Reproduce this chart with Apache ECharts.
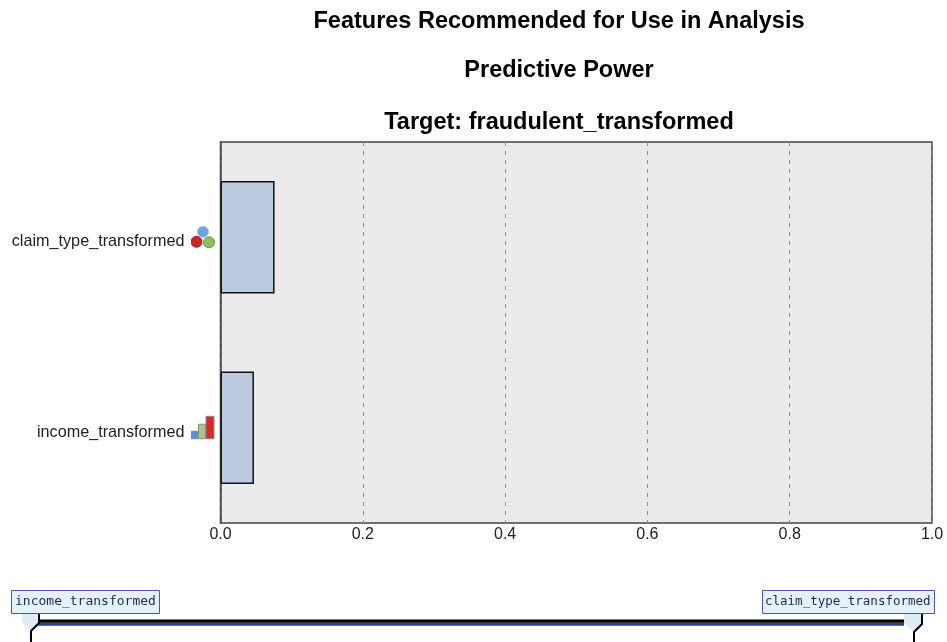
<!DOCTYPE html>
<html>
<head>
<meta charset="utf-8">
<style>
html,body{margin:0;padding:0;background:#fff;}
#main{width:947px;height:642px;}
</style>
<script src="https://cdn.jsdelivr.net/npm/echarts@6/dist/echarts.min.js"></script>
</head>
<body>
<div id="main"></div>
<script>
var titles = ["Features Recommended for Use in Analysis", "Predictive Power", "Target: fraudulent_transformed"];
var categories = ["claim_type_transformed", "income_transformed"];
var power = [0.076, 0.047];
var tickLabels = ["0.0", "0.2", "0.4", "0.6", "0.8", "1.0"];
var sliderLabels = ["income_transformed", "claim_type_transformed"];

// 名义变量/有序变量 小图标
var nominalIcon = '<svg xmlns="http://www.w3.org/2000/svg" width="25" height="25">' +
    '<circle cx="12.5" cy="7" r="5.5" fill="#6f9fdc" stroke="#a5c4ea"/>' +
    '<circle cx="6" cy="17" r="5.5" fill="#c8252c" stroke="#a81c22"/>' +
    '<circle cx="18.5" cy="17.5" r="5.5" fill="#8fbe5f" stroke="#6f9f45"/></svg>';
var ordinalIcon = '<svg xmlns="http://www.w3.org/2000/svg" width="25" height="25">' +
    '<rect x="1" y="16" width="7" height="7.5" fill="#5f8fc8" stroke="#8a8a8a"/>' +
    '<rect x="8" y="9" width="7" height="14.5" fill="#a5c78a" stroke="#8a8a8a"/>' +
    '<rect x="15.5" y="1" width="8" height="22.5" fill="#d8282c" stroke="#8a8a8a"/></svg>';
function svgUri(s) {
    return 'data:image/svg+xml;charset=utf-8,' + encodeURIComponent(s);
}

var chart = echarts.init(document.getElementById("main"));
var titleFont = {color: "#000", fontSize: 23.5, fontWeight: "bold", fontFamily: "Liberation Sans"};

var option = {
    animation: false,
    backgroundColor: "#fff",
    title: [
        {text: titles[0], left: 554, top: 5, textAlign: "center", textStyle: titleFont},
        {text: titles[1], left: 554, top: 54, textAlign: "center", textStyle: titleFont},
        {text: titles[2], left: 554, top: 106, textAlign: "center", textStyle: titleFont}
    ],
    grid: {
        show: true,
        left: 220.5,
        top: 142,
        width: 711.5,
        height: 381,
        backgroundColor: "#ebebeb",
        borderColor: "#444",
        borderWidth: 1.5
    },
    xAxis: {
        type: "value",
        min: 0,
        max: 1,
        interval: 0.2,
        axisLine: {show: false},
        axisTick: {show: false},
        splitLine: {show: true, lineStyle: {color: "#8c8c8c", type: [4, 5], width: 1}},
        axisLabel: {
            color: "#222",
            fontSize: 16,
            fontFamily: "Liberation Sans",
            margin: 4,
            hideOverlap: false,
            showMinLabel: true,
            showMaxLabel: true,
            formatter: function (v) { return tickLabels[Math.round(v / 0.2)]; }
        }
    },
    yAxis: {
        type: "category",
        inverse: true,
        data: categories,
        axisLine: {show: true, lineStyle: {color: "#444", width: 1.5}},
        axisTick: {show: false},
        axisLabel: {
            margin: 5,
            formatter: function (v) {
                return "{name|" + v + "}{" + (v === categories[0] ? "nominal" : "ordinal") + "|}";
            },
            rich: {
                name: {color: "#222", fontSize: 16.2, fontFamily: "Liberation Sans", padding: [9, 6, 0, 0]},
                nominal: {width: 25, height: 25, backgroundColor: {image: svgUri(nominalIcon)}},
                ordinal: {width: 25, height: 25, backgroundColor: {image: svgUri(ordinalIcon)}}
            }
        }
    },
    series: [{
        type: "bar",
        data: power,
        barWidth: "59%",
        itemStyle: {color: "#bccae0", borderColor: "#111", borderWidth: 1.5},
        silent: true
    }],
    graphic: [
        // 底部滑块
        {type: "polygon", silent: true, shape: {points: [[22, 613], [39, 613], [39, 622], [31, 631], [22, 622]]},
            style: {fill: "#dfecf8"}},
        {type: "polygon", silent: true, shape: {points: [[904, 613], [922, 613], [922, 624], [914, 632], [904, 623]]},
            style: {fill: "#dfecf8"}},
        {type: "rect", silent: true, shape: {x: 38, y: 622.7, width: 866, height: 3}, style: {fill: "#2f3f96"}},
        {type: "rect", silent: true, shape: {x: 38, y: 619.5, width: 866, height: 3.2}, style: {fill: "#000"}},
        {type: "polyline", silent: true, shape: {points: [[31, 642], [31, 631], [39, 623], [39, 613]]},
            style: {stroke: "#000", lineWidth: 2, fill: null}},
        {type: "polyline", silent: true, shape: {points: [[922, 613], [922, 624], [914, 632], [914, 642]]},
            style: {stroke: "#000", lineWidth: 2, fill: null}},
        {type: "rect", silent: true, shape: {x: 11.5, y: 590.5, width: 148, height: 23},
            style: {fill: "#e6f0fb", stroke: "#4a5a9e", lineWidth: 1}},
        {type: "rect", silent: true, shape: {x: 762.5, y: 590.5, width: 172, height: 23},
            style: {fill: "#e6f0fb", stroke: "#4a5a9e", lineWidth: 1}},
        {type: "text", silent: true, style: {x: 15, y: 602, text: sliderLabels[0], fill: "#1c2a55",
            font: "13px 'DejaVu Sans Mono'", textVerticalAlign: "middle"}},
        {type: "text", silent: true, style: {x: 765, y: 602, text: sliderLabels[1], fill: "#1c2a55",
            font: "12.5px 'DejaVu Sans Mono'", textVerticalAlign: "middle"}}
    ]
};
chart.setOption(option);
</script>
</body>
</html>
